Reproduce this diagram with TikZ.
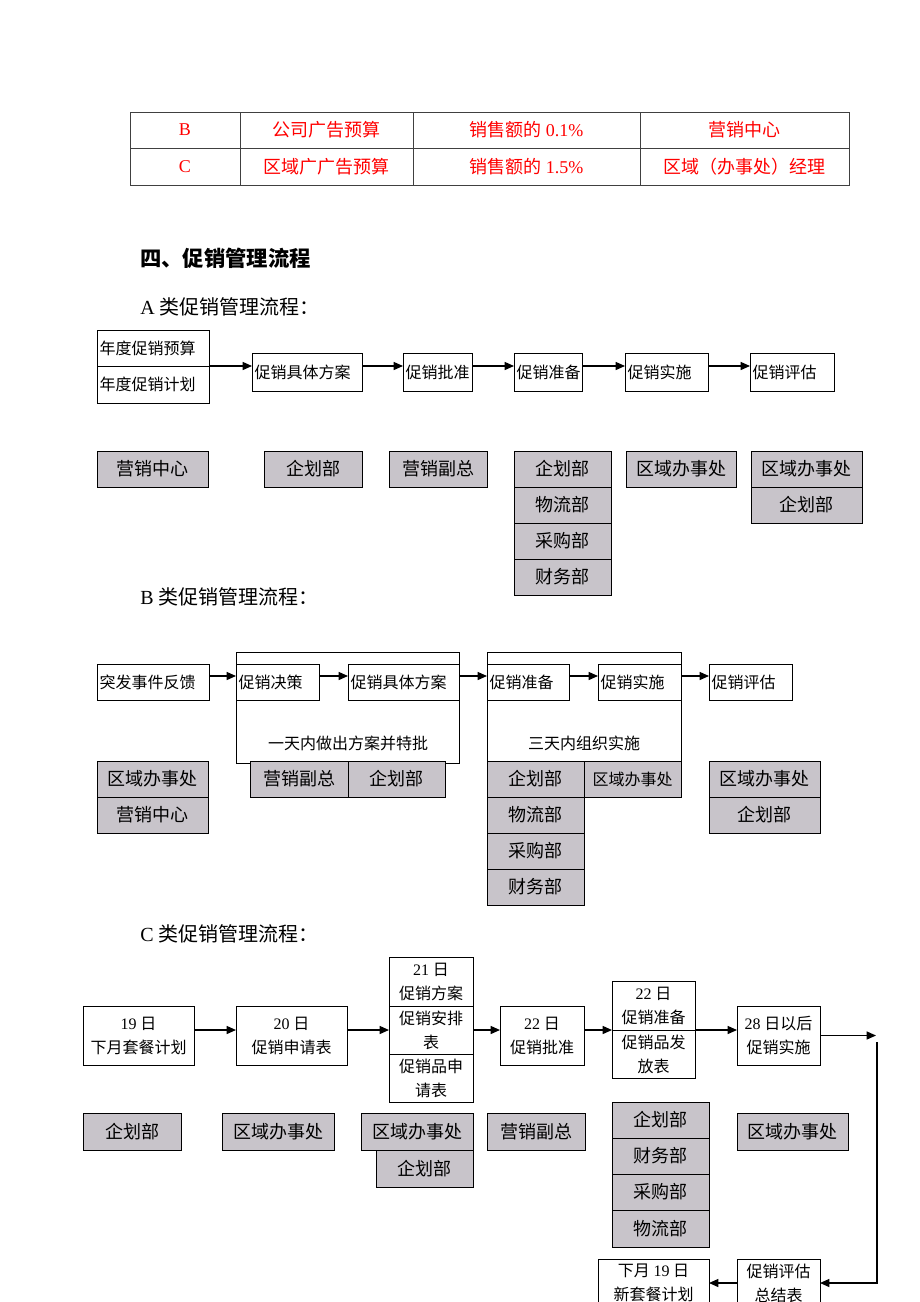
\documentclass[tikz,border=0pt]{standalone}
\usepackage{fontspec}
\setmainfont{Liberation Serif}
\newfontfamily\cjk{Noto Sans CJK SC}
\usetikzlibrary{arrows.meta}
\definecolor{zgray}{RGB}{200,196,202}
\definecolor{zred}{RGB}{255,0,0}
\newcommand\rmn[1]{{\rmfamily #1}}
\newcommand\bx[7]{\node[#6,minimum width={(#4-#2)*0.75pt},minimum height={(#5-#3)*0.75pt}] (#1) at ({(#2+#4)/2},{(#3+#5)/2}) {#7};}
\newcommand\lbx[6]{\bx{#1}{#2}{#3}{#4}{#5}{fbox}{\makebox[\dimexpr(#4pt-#2pt)*3/4-4pt\relax][l]{#6}}}
\newcommand\gbx[6]{\bx{#1}{#2}{#3}{#4}{#5}{gbox}{#6}}
\newcommand\cbx[6]{\bx{#1}{#2}{#3}{#4}{#5}{fbox}{#6}}
\tikzset{
  fbox/.style={draw,line width=0.75pt,inner sep=0pt,outer sep=0pt,fill=white,align=center,font=\fontsize{12}{18}\selectfont\cjk},
  gbox/.style={draw,line width=0.75pt,inner sep=0pt,outer sep=0pt,fill=zgray,font=\fontsize{13.5}{16}\selectfont\cjk},
  sgbox/.style={gbox,font=\fontsize{12}{16}\selectfont\cjk},
  grp/.style={draw,line width=0.75pt,inner sep=0pt,outer sep=0pt},
  cell/.style={draw=black!75,line width=0.6pt,inner sep=0pt,outer sep=0pt,text=zred,font=\fontsize{13.5}{16}\selectfont\cjk},
  glabel/.style={inner sep=0pt,font=\fontsize{12}{16}\selectfont\cjk},
  head/.style={anchor=west,inner sep=0pt,font=\fontsize{15}{18}\selectfont},
  arr/.style={-{Triangle[length=7pt,width=6pt]},line width=1pt},
  ln/.style={line width=1pt}
}
\begin{document}
\begin{tikzpicture}[x=0.75pt,y=-0.75pt]
\useasboundingbox (0,0) rectangle (920,1302);
\clip (0,0) rectangle (920,1302);
\fill[white] (0,0) rectangle (920,1302);
% table
\bx{t11}{130}{112}{240}{148}{cell}{\rmn{B}}
\bx{t12}{240}{112}{413}{148}{cell}{公司广告预算}
\bx{t13}{413}{112}{640}{148}{cell}{销售额的 \rmn{0.1\%}}
\bx{t14}{640}{112}{849}{148}{cell}{营销中心}
\bx{t21}{130}{148}{240}{185}{cell}{\rmn{C}}
\bx{t22}{240}{148}{413}{185}{cell}{区域广广告预算}
\bx{t23}{413}{148}{640}{185}{cell}{销售额的 \rmn{1.5\%}}
\bx{t24}{640}{148}{849}{185}{cell}{区域（办事处）经理}
% headings
\node[head,font=\fontsize{16}{18}\selectfont\bfseries\cjk] (h0) at (140,258) {四、促销管理流程};
\node[head] (hA) at (140,307) {A {\cjk 类促销管理流程：}};
\node[head] (hB) at (140,597) {B {\cjk 类促销管理流程：}};
\node[head] (hC) at (140,934) {C {\cjk 类促销管理流程：}};
% ---- A flow
\lbx{a1}{97}{330}{209}{366}{年度促销预算}
\lbx{a1b}{97}{366}{209}{403}{年度促销计划}
\lbx{a2}{252}{353}{362}{391}{促销具体方案}
\lbx{a3}{403}{353}{472}{391}{促销批准}
\lbx{a4}{514}{353}{582}{391}{促销准备}
\lbx{a5}{625}{353}{708}{391}{促销实施}
\lbx{a6}{750}{353}{834}{391}{促销评估}
\coordinate (yA) at (0,366);
\draw[arr] (a1b.north east) -- (a2.west |- yA);
\draw[arr] (a2.east |- yA) -- (a3.west |- yA);
\draw[arr] (a3.east |- yA) -- (a4.west |- yA);
\draw[arr] (a4.east |- yA) -- (a5.west |- yA);
\draw[arr] (a5.east |- yA) -- (a6.west |- yA);
\gbx{ag1}{97}{451}{208}{487}{营销中心}
\gbx{ag2}{264}{451}{362}{487}{企划部}
\gbx{ag3}{389}{451}{487}{487}{营销副总}
\gbx{ag4}{514}{451}{611}{487}{企划部}
\gbx{ag5}{514}{487}{611}{523}{物流部}
\gbx{ag6}{514}{523}{611}{559}{采购部}
\gbx{ag7}{514}{559}{611}{595}{财务部}
\gbx{ag8}{626}{451}{736}{487}{区域办事处}
\gbx{ag9}{751}{451}{862}{487}{区域办事处}
\gbx{ag10}{751}{487}{862}{523}{企划部}
% ---- B flow
\bx{g1}{236}{652}{459}{763}{grp}{}
\bx{g2}{487}{652}{681}{763}{grp}{}
\node[glabel] (g1l) at (348,743) {一天内做出方案并特批};
\node[glabel] (g2l) at (584,743) {三天内组织实施};
\lbx{b1}{97}{664}{209}{700}{突发事件反馈}
\lbx{b2}{236}{664}{319}{700}{促销决策}
\lbx{b3}{348}{664}{459}{700}{促销具体方案}
\lbx{b4}{487}{664}{569}{700}{促销准备}
\lbx{b5}{598}{664}{681}{700}{促销实施}
\lbx{b6}{709}{664}{792}{700}{促销评估}
\coordinate (yB) at (0,676);
\draw[arr] (b1.east |- yB) -- (b2.west |- yB);
\draw[arr] (b2.east |- yB) -- (b3.west |- yB);
\draw[arr] (b3.east |- yB) -- (b4.west |- yB);
\draw[arr] (b4.east |- yB) -- (b5.west |- yB);
\draw[arr] (b5.east |- yB) -- (b6.west |- yB);
\gbx{bg1}{97}{761}{208}{797}{区域办事处}
\gbx{bg2}{97}{797}{208}{833}{营销中心}
\gbx{bg3}{250}{761}{348}{797}{营销副总}
\gbx{bg4}{348}{761}{445}{797}{企划部}
\gbx{bg5}{487}{761}{584}{797}{企划部}
\gbx{bg6}{487}{797}{584}{833}{物流部}
\gbx{bg7}{487}{833}{584}{869}{采购部}
\gbx{bg8}{487}{869}{584}{905}{财务部}
\bx{bg9}{584}{761}{681}{797}{sgbox}{区域办事处}
\gbx{bg10}{709}{761}{820}{797}{区域办事处}
\gbx{bg11}{709}{797}{820}{833}{企划部}
% ---- C flow
\cbx{c1}{83}{1006}{194}{1065}{\rmn{19} 日\\下月套餐计划}
\cbx{c2}{236}{1006}{347}{1065}{\rmn{20} 日\\促销申请表}
\cbx{t1}{389}{957}{473}{1006}{\rmn{21} 日\\促销方案}
\cbx{t2}{389}{1006}{473}{1054}{促销安排\\表}
\cbx{t3}{389}{1054}{473}{1102}{促销品申\\请表}
\cbx{c3}{500}{1006}{584}{1065}{\rmn{22} 日\\促销批准}
\cbx{p1}{612}{981}{695}{1030}{\rmn{22} 日\\促销准备}
\cbx{p2}{612}{1030}{695}{1078}{促销品发\\放表}
\cbx{c4}{737}{1006}{820}{1065}{\rmn{28} 日以后\\促销实施}
\cbx{ev}{737}{1259}{820}{1307}{促销评估\\总结表}
\cbx{nx}{598}{1259}{709}{1307}{下月 \rmn{19} 日\\新套餐计划}
\draw[arr] (c1.east |- t2.center) -- (c2.west |- t2.center);
\draw[arr] (c2.east |- t2.center) -- (t2.west);
\draw[arr] (t2.east) -- (c3.west |- t2.center);
\draw[arr] (c3.east |- t2.center) -- (p1.south west);
\draw[arr] (p1.south east) -- (c4.west |- t2.center);
\coordinate (cend) at (876,1035.5);
\coordinate (cturn) at (877,1042);
\draw[arr] (c4.east) -- (cend);
\draw[arr] (cturn) |- (ev.east);
\draw[arr] (ev.west) -- (nx.east);
\gbx{cg1}{83}{1113}{181}{1150}{企划部}
\gbx{cg2}{222}{1113}{334}{1150}{区域办事处}
\gbx{cg3}{361}{1113}{473}{1150}{区域办事处}
\gbx{cg4}{376}{1150}{473}{1187}{企划部}
\gbx{cg5}{487}{1113}{585}{1150}{营销副总}
\gbx{cg6}{612}{1102}{709}{1138}{企划部}
\gbx{cg7}{612}{1138}{709}{1174}{财务部}
\gbx{cg8}{612}{1174}{709}{1210}{采购部}
\gbx{cg9}{612}{1210}{709}{1247}{物流部}
\gbx{cg10}{737}{1113}{848}{1150}{区域办事处}
\end{tikzpicture}
\end{document}
